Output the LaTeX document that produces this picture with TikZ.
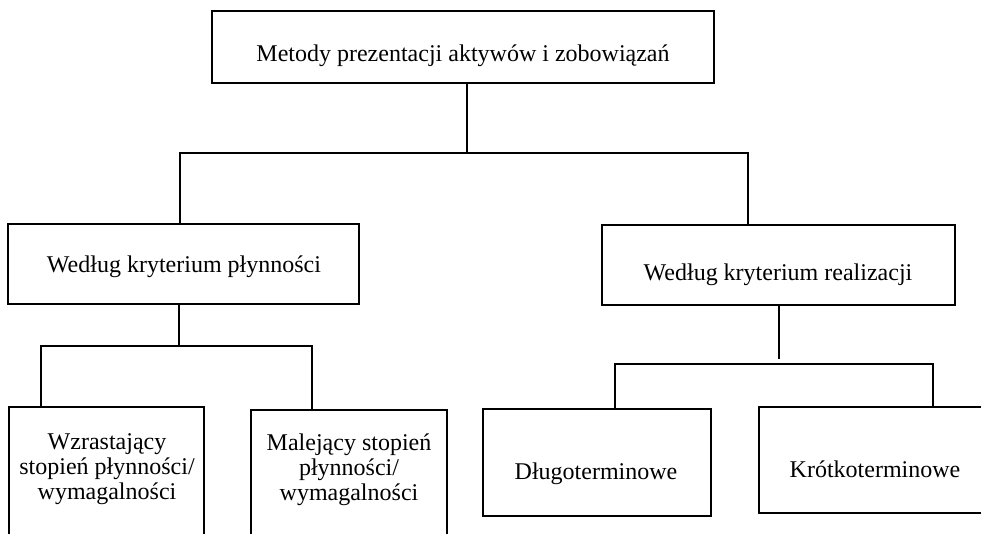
\documentclass[tikz,border=0pt]{standalone}
\usepackage{fontspec}
\setmainfont{Liberation Serif}
\tikzset{
  box/.style={draw, line width=1.4pt, inner sep=0pt, rectangle},
  txt/.style={font=\fontsize{18}{19.1}\selectfont, inner sep=0pt, anchor=base},
  conn/.style={line width=1.4pt, line cap=rect},
}
\begin{document}
\begin{tikzpicture}[x=0.75pt,y=-0.75pt]
\useasboundingbox (0,0) rectangle (981,534);
\clip (0,0) rectangle (981,534);
% boxes
\node[box, minimum width=502*0.75pt, minimum height=72*0.75pt] (top) at (463,47) {};
\node[box, minimum width=351*0.75pt, minimum height=80*0.75pt] (L) at (183.5,264) {};
\node[box, minimum width=353*0.75pt, minimum height=80*0.75pt] (R) at (778.5,265) {};
\node[box, minimum width=195*0.75pt, minimum height=153*0.75pt] (LL) at (106.5,483.5) {};
\node[box, minimum width=196*0.75pt, minimum height=150*0.75pt] (LM) at (349,485) {};
\node[box, minimum width=228*0.75pt, minimum height=107*0.75pt] (D) at (597,462.5) {};
\node[box, minimum width=251*0.75pt, minimum height=106*0.75pt] (K) at (884.5,460) {};
% texts
\node[txt] (topT) at (463,62) {Metody prezentacji aktywów i zobowiązań};
\node[txt] (LT) at (184,273) {Według kryterium płynności};
\node[txt] (RT) at (778,281) {Według kryterium realizacji};
\node[txt] (LLT) at (107,449) {\begin{tabular}[t]{@{}c@{}}Wzrastający\\stopień płynności/\\wymagalności\end{tabular}};
\node[txt] (LMT) at (349,450) {\begin{tabular}[t]{@{}c@{}}Malejący stopień\\płynności/\\wymagalności\end{tabular}};
\node[txt] (DT) at (596,479) {Długoterminowe};
\node[txt] (KT) at (875,477) {Krótkoterminowe};
% connectors, level 1
\coordinate (j1) at (467,153);
\coordinate (b1L) at (180,153);
\coordinate (b1R) at (748,153);
\draw[conn] (top.south -| j1) -- (j1);
\draw[conn] (b1L) -- (b1R);
\draw[conn] (b1L) -- (b1L |- L.north);
\draw[conn] (b1R) -- (b1R |- R.north);
% level 2 left
\coordinate (j2) at (179,346);
\coordinate (b2L) at (41,346);
\coordinate (b2R) at (312,346);
\draw[conn] (L.south -| j2) -- (j2);
\draw[conn] (b2L) -- (b2R);
\draw[conn] (b2L) -- (b2L |- LL.north);
\draw[conn] (b2R) -- (b2R |- LM.north);
% level 2 right
\coordinate (j3) at (779,358);
\coordinate (b3L) at (615,364);
\coordinate (b3R) at (933,364);
\draw[conn] (R.south -| j3) -- (j3);
\draw[conn] (b3L) -- (b3R);
\draw[conn] (b3L) -- (b3L |- D.north);
\draw[conn] (b3R) -- (b3R |- K.north);
\end{tikzpicture}
\end{document}
